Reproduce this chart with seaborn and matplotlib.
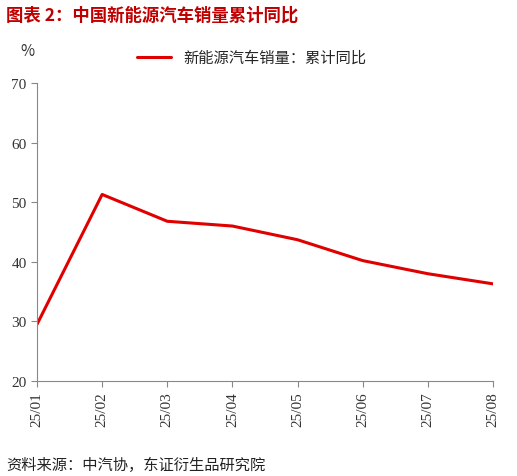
import matplotlib
matplotlib.use("Agg")
import matplotlib.pyplot as plt
import seaborn as sns
import pandas as pd

months = ['25/01', '25/02', '25/03', '25/04', '25/05', '25/06', '25/07', '25/08']
yoy = [29.5, 51.3, 46.8, 46.0, 43.7, 40.2, 38.0, 36.3]
series_name = '新能源汽车销量：累计同比'

sns.set_style("white")
plt.rcParams['font.family'] = ['Noto Sans CJK SC', 'DejaVu Sans']

df = pd.DataFrame({'month': months, 'yoy': yoy, 'pos': range(len(months))})

fig = plt.figure(figsize=(5.17, 4.77), dpi=100)
ax = fig.add_axes([37/517, 1 - 382/477, (493-37)/517, (382-84)/477])
sns.lineplot(data=df, x='pos', y='yoy', color='#e00000', linewidth=2.2, ax=ax, label=series_name)

ax.set_xlim(0, len(months) - 1)
ax.set_ylim(20, 70)
ax.set_xticks(range(len(months)))
ax.set_xticklabels(months, rotation=90, family='Liberation Serif', fontsize=11, color='#333333')
ax.set_yticks(range(20, 71, 10))
ax.set_yticklabels([str(v) for v in range(20, 71, 10)], family='Liberation Serif', fontsize=11, color='#333333')
ax.set_xlabel('')
ax.set_ylabel('')
ax.tick_params(axis='both', direction='out', length=4, color='#888888', left=True, bottom=True)
sns.despine(ax=ax)
for s in ['left', 'bottom']:
    ax.spines[s].set_color('#888888')

ax.legend(loc='upper left', bbox_to_anchor=(0.19, 1.16), frameon=False, fontsize=11, handlelength=2.2)
fig.text(20/517, 1 - 52/477, '%', fontsize=11, va='center', color='#333333')
fig.text(6/517, 1 - 16/477, '图表 2：中国新能源汽车销量累计同比', color='#c00000', fontsize=12.5, fontweight='bold', va='center')
fig.text(6/517, 1 - 465/477, '资料来源：中汽协，东证衍生品研究院', color='#222222', fontsize=11, va='center')

fig.savefig('out.png', dpi=100)
